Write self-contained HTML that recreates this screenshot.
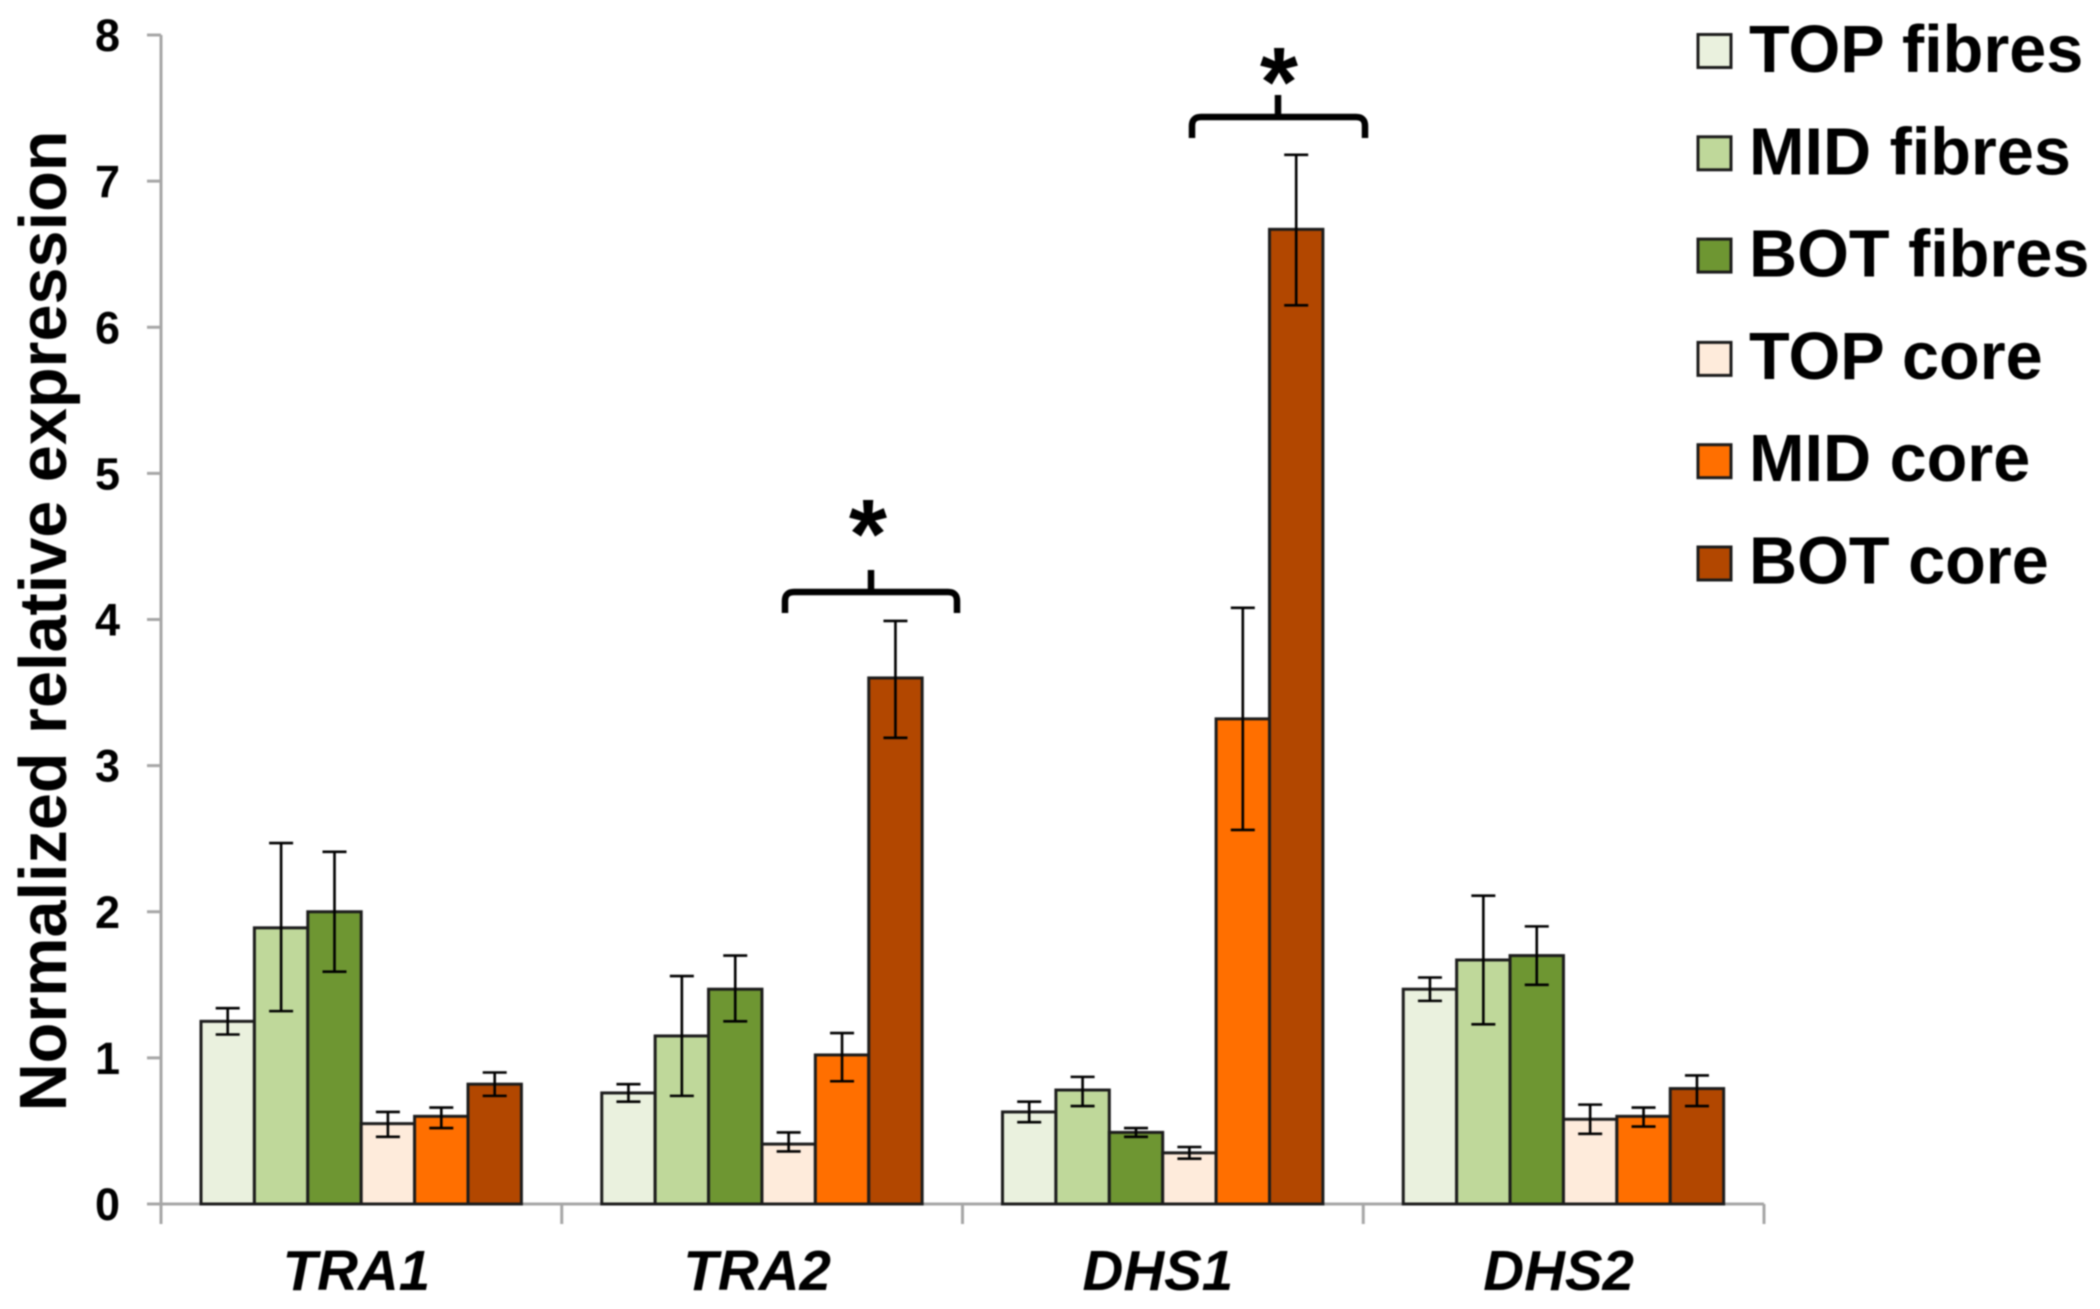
<!DOCTYPE html>
<html lang="en">
<head>
<meta charset="utf-8">
<title>Normalized relative expression chart</title>
<style>
html,body{margin:0;padding:0;background:#fff;width:2100px;height:1309px;overflow:hidden}
#chart{display:block;filter:blur(0.85px);font-family:"Liberation Sans",Arial,sans-serif;font-weight:bold;fill:#000}
</style>
</head>
<body>
<svg id="chart" xmlns="http://www.w3.org/2000/svg" width="2100" height="1309" viewBox="0 0 2100 1309">
  <text transform="translate(66 621) rotate(-90)" text-anchor="middle" font-size="66.6">Normalized relative expression</text>
  <g id="axes"></g>
  <g id="bars"></g>
  <g id="errors"></g>
  <g id="legend"></g>
  <g>
    <path d="M785 613 V601 Q785 592 794 592 H871 V570 M871 592 H948 Q957 592 957 601 V613" fill="none" stroke="#000" stroke-width="6.5"/>
    <text x="868" y="568" text-anchor="middle" font-size="98">*</text>
  </g>
  <g>
    <path d="M1192 138 V126 Q1192 117 1201 117 H1278 V95 M1278 117 H1356 Q1365 117 1365 126 V138" fill="none" stroke="#000" stroke-width="6.5"/>
    <text x="1279" y="116" text-anchor="middle" font-size="98">*</text>
  </g>
</svg>
<script>
const categories = ['TRA1', 'TRA2', 'DHS1', 'DHS2'];
const seriesNames = ['TOP fibres', 'MID fibres', 'BOT fibres', 'TOP core', 'MID core', 'BOT core'];
const seriesColors = ['#EAF1DE', '#BFD89A', '#6E9632', '#FEEBDB', '#FF6F00', '#B24700'];
const yTicks = [0, 1, 2, 3, 4, 5, 6, 7, 8];

const topFibres = [1.25, 0.76, 0.63, 1.47];
const midFibres = [1.89, 1.15, 0.78, 1.67];
const botFibres = [2.00, 1.47, 0.49, 1.70];
const topCore = [0.55, 0.41, 0.35, 0.58];
const midCore = [0.60, 1.02, 3.32, 0.60];
const botCore = [0.82, 3.60, 6.67, 0.79];

const topFibresHigh = [1.34, 0.82, 0.70, 1.55];
const midFibresHigh = [2.47, 1.56, 0.87, 2.11];
const botFibresHigh = [2.41, 1.70, 0.52, 1.90];
const topCoreHigh = [0.63, 0.49, 0.39, 0.68];
const midCoreHigh = [0.66, 1.17, 4.08, 0.66];
const botCoreHigh = [0.90, 3.99, 7.18, 0.88];

const topFibresLow = [1.16, 0.70, 0.56, 1.39];
const midFibresLow = [1.32, 0.74, 0.67, 1.23];
const botFibresLow = [1.59, 1.25, 0.46, 1.50];
const topCoreLow = [0.46, 0.36, 0.31, 0.48];
const midCoreLow = [0.52, 0.84, 2.56, 0.53];
const botCoreLow = [0.74, 3.19, 6.15, 0.67];

const seriesValues = [topFibres, midFibres, botFibres, topCore, midCore, botCore];
const seriesHigh = [topFibresHigh, midFibresHigh, botFibresHigh, topCoreHigh, midCoreHigh, botCoreHigh];
const seriesLow = [topFibresLow, midFibresLow, botFibresLow, topCoreLow, midCoreLow, botCoreLow];

const NS = 'http://www.w3.org/2000/svg';
const plotLeft = 161, plotRight = 1764, plotBottom = 1204, plotTop = 35, yMax = 8;
const groupWidth = (plotRight - plotLeft) / categories.length;
const barWidth = 53.4, groupPad = 40;

function yScale(v) { return plotBottom - (v / yMax) * (plotBottom - plotTop); }
function xBar(g, s) { return plotLeft + g * groupWidth + groupPad + s * barWidth; }
function make(parent, tag, attrs) {
  const el = document.createElementNS(NS, tag);
  for (const k in attrs) el.setAttribute(k, attrs[k]);
  parent.appendChild(el);
  return el;
}

const axes = document.getElementById('axes');
const axisStyle = { stroke: '#a6a6a6', 'stroke-width': 3 };

const yAxisLine = make(axes, 'line', { x1: plotLeft, x2: plotLeft, y1: plotTop, y2: plotBottom + 20, ...axisStyle });



const xAxisLine = make(axes, 'line', { x1: plotLeft - 14, x2: plotRight, y1: plotBottom, y2: plotBottom, ...axisStyle });



yTicks.forEach(function (t) {
  const tick = make(axes, 'line', { x1: plotLeft - 14, x2: plotLeft, y1: yScale(t), y2: yScale(t), ...axisStyle });
  
  
  const label = make(axes, 'text', { x: 120, y: yScale(t) + 16, 'text-anchor': 'end', 'font-size': 45 });
  label.textContent = String(t);
  
  
});

categories.forEach(function (c, g) {
  const tick = make(axes, 'line', { x1: plotLeft + (g + 1) * groupWidth, x2: plotLeft + (g + 1) * groupWidth, y1: plotBottom, y2: plotBottom + 20, ...axisStyle });
  
  
  const label = make(axes, 'text', { x: plotLeft + (g + 0.5) * groupWidth - 5, y: 1290, 'text-anchor': 'middle', 'font-size': 56.5, 'font-style': 'italic' });
  label.textContent = c;
  
  
});

const barsLayer = document.getElementById('bars');
const errorsLayer = document.getElementById('errors');

categories.forEach(function (c, g) {
  seriesNames.forEach(function (name, s) {
    const slug = name.toLowerCase().replace(' ', '-') + '-' + c.toLowerCase();
    const x = xBar(g, s);
    const top = yScale(seriesValues[s][g]);
    const bar = make(barsLayer, 'rect', { x: x, y: top, width: barWidth, height: plotBottom - top, fill: seriesColors[s], stroke: '#1c1c1c', 'stroke-width': 3 });
    
    

    const cx = x + barWidth / 2;
    const yHigh = yScale(seriesHigh[s][g]);
    const yLow = yScale(seriesLow[s][g]);
    const err = make(errorsLayer, 'path', { d: 'M' + cx + ' ' + yHigh + 'V' + yLow + 'M' + (cx - 12) + ' ' + yHigh + 'H' + (cx + 12) + 'M' + (cx - 12) + ' ' + yLow + 'H' + (cx + 12), fill: 'none', stroke: '#000', 'stroke-width': 2.6 });
    
    
  });
});

const legend = document.getElementById('legend');
seriesNames.forEach(function (name, s) {
  const slug = name.toLowerCase().replace(' ', '-');
  const rowY = 51 + s * 102.3;
  const swatch = make(legend, 'rect', { x: 1698, y: rowY - 16.5 + (s > 2 ? 1 : 0), width: 33, height: 33, fill: seriesColors[s], stroke: '#1c1c1c', 'stroke-width': 3 });
  
  
  const label = make(legend, 'text', { x: 1749, y: rowY + 21, 'font-size': 66.6 });
  label.textContent = name;
  
  
});
</script>
</body>
</html>
